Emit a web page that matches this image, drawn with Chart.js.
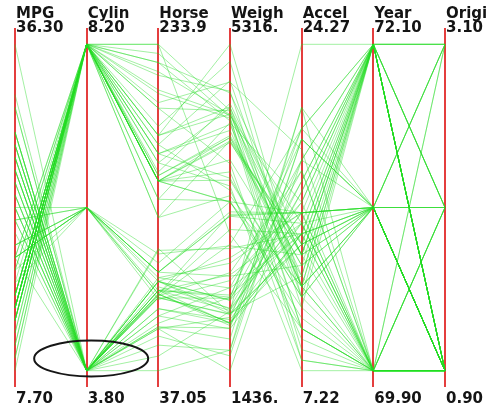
<!DOCTYPE html>
<html>
<head>
<meta charset="utf-8">
<script src="https://cdn.jsdelivr.net/npm/chart.js@4.4.1/dist/chart.umd.min.js"></script>
<style>
  html, body { margin: 0; padding: 0; background: #ffffff; }
  canvas { display: block; }
</style>
</head>
<body>
<canvas id="pc" width="490" height="410"></canvas>
<script>
// Parallel coordinates of the 1970-1972 cars.
const dimensionNames = ['MPG', 'Cylinders', 'Horsepower', 'Weight', 'Acceleration', 'Year', 'Origin'];
const topTickLabels = ['36.30', '8.20', '233.9', '5316.', '24.27', '72.10', '3.10'];
const bottomTickLabels = ['7.70', '3.80', '37.05', '1436.', '7.22', '69.90', '0.90'];
const axisMax = [36.3, 8.2, 233.95, 5316.35, 24.275, 72.1, 3.1];
const axisMin = [7.7, 3.8, 37.05, 1436.65, 7.225, 69.9, 0.9];

const mpg = [
  18, 15, 18, 16, 17, 15, 14, 14, 14, 15, 15, 14, 15, 14, 24, 22, 18, 21, 27, 26, 25, 24, 25, 26, 21, 10, 10, 11, 9,
  27, 28, 25, 19, 16, 17, 19, 18, 14, 14, 14, 14, 12, 13, 13, 18, 22, 19, 18, 23, 28, 30, 30, 31, 35, 27, 26,
  24, 25, 23, 20, 21, 13, 14, 15, 14, 17, 11, 13, 12, 13, 15, 13, 13, 14, 18, 22, 21, 26, 22, 28, 23, 28, 27
];
const cylinders = [
  8, 8, 8, 8, 8, 8, 8, 8, 8, 8, 8, 8, 8, 8, 4, 6, 6, 6, 4, 4, 4, 4, 4, 4, 6, 8, 8, 8, 8,
  4, 4, 4, 6, 6, 6, 6, 6, 8, 8, 8, 8, 8, 8, 8, 6, 4, 6, 6, 4, 4, 4, 4, 4, 4, 4, 4,
  4, 4, 4, 4, 4, 8, 8, 8, 8, 8, 8, 8, 8, 8, 8, 8, 8, 8, 4, 4, 4, 4, 4, 4, 4, 4, 4
];
const horsepower = [
  130, 165, 150, 150, 140, 198, 220, 215, 225, 190, 170, 160, 150, 225, 95, 95, 97, 85, 88, 46, 87, 90, 95, 113, 90, 215, 200, 210, 193,
  88, 90, 95, 100, 105, 100, 88, 100, 165, 175, 153, 150, 180, 170, 175, 110, 72, 100, 88, 86, 90, 70, 76, 65, 69, 60, 70,
  95, 80, 54, 90, 86, 165, 175, 150, 153, 150, 208, 155, 160, 190, 150, 130, 140, 150, 112, 76, 87, 69, 86, 92, 97, 80, 88
];
const weight = [
  3504, 3693, 3436, 3433, 3449, 4341, 4354, 4312, 4425, 3850, 3563, 3609, 3761, 3086, 2372, 2833, 2774, 2587, 2130, 1835, 2672, 2430, 2375, 2234, 2648, 4615, 4376, 4382, 4732,
  2130, 2264, 2228, 2634, 3439, 3329, 3302, 3288, 4209, 4464, 4154, 4096, 4955, 4746, 5140, 2962, 2408, 3282, 3139, 2220, 2123, 2074, 2065, 1773, 1613, 1834, 1955,
  2278, 2126, 2254, 2408, 2226, 4274, 4385, 4135, 4129, 3672, 4633, 4502, 4456, 4422, 3892, 4098, 4294, 4077, 2933, 2511, 2979, 2189, 2395, 2288, 2506, 2164, 2100
];
const acceleration = [
  12, 11.5, 11, 12, 10.5, 10, 9, 8.5, 10, 8.5, 10, 8, 9.5, 10, 15, 15.5, 15.5, 16, 14.5, 20.5, 17.5, 14.5, 17.5, 12.5, 15, 14, 15, 13.5, 18.5,
  14.5, 15.5, 14, 13, 15.5, 15.5, 15.5, 15.5, 12, 11.5, 13.5, 13, 11.5, 12, 12, 13.5, 19, 15, 14.5, 14, 14, 19.5, 14.5, 19, 18, 19, 20.5,
  15.5, 17, 23.5, 19.5, 16.5, 12, 12, 13.5, 13, 11.5, 11, 13.5, 13.5, 12.5, 12.5, 14, 16, 14, 14.5, 18, 19.5, 18, 16, 17, 14.5, 15, 16.5
];
const modelYear = [
  70, 70, 70, 70, 70, 70, 70, 70, 70, 70, 70, 70, 70, 70, 70, 70, 70, 70, 70, 70, 70, 70, 70, 70, 70, 70, 70, 70, 70,
  71, 71, 71, 71, 71, 71, 71, 71, 71, 71, 71, 71, 71, 71, 71, 71, 71, 71, 71, 71, 71, 71, 71, 71, 71, 71, 71,
  72, 72, 72, 72, 72, 72, 72, 72, 72, 72, 72, 72, 72, 72, 72, 72, 72, 72, 72, 72, 72, 72, 72, 72, 72, 72, 72
];
const origin = [
  1, 1, 1, 1, 1, 1, 1, 1, 1, 1, 1, 1, 1, 1, 3, 1, 1, 1, 3, 2, 2, 2, 2, 2, 1, 1, 1, 1, 1,
  3, 1, 3, 1, 1, 1, 1, 1, 1, 1, 1, 1, 1, 1, 1, 1, 1, 1, 1, 1, 2, 2, 2, 3, 3, 2, 1,
  3, 1, 2, 1, 1, 1, 1, 1, 1, 1, 1, 1, 1, 1, 1, 1, 1, 1, 2, 2, 2, 2, 1, 3, 3, 1, 3
];

// Cylinder value the highlighted 4-cylinder group is circled around.
const circledCylinders = 4.15;

const columns = [mpg, cylinders, horsepower, weight, acceleration, modelYear, origin];
const axisLabels = dimensionNames.map(n => n.slice(0, 5));

// Each axis has its own range; map a value onto the shared 0..1 vertical scale.
const toUnit = (v, axis) => (v - axisMin[axis]) / (axisMax[axis] - axisMin[axis]);

const datasets = mpg.map((_, row) => ({
  data: columns.map((col, axis) => toUnit(col[row], axis)),
  borderColor: 'rgba(35, 220, 35, 0.42)',
  borderWidth: 1,
  pointRadius: 0,
  fill: false,
  tension: 0
}));

const axisText = {
  id: 'axisText',
  afterDraw(chart) {
    const { ctx, chartArea, scales } = chart;
    const xs = scales.x, ys = scales.y;
    ctx.save();
    ctx.font = 'bold 15px "DejaVu Sans", sans-serif';
    ctx.fillStyle = '#141414';
    ctx.textAlign = 'left';
    ctx.textBaseline = 'alphabetic';
    axisLabels.forEach((name, i) => {
      const x = xs.getPixelForValue(i) + 1;
      ctx.fillText(name, x, chartArea.top - 10);
      ctx.fillText(topTickLabels[i], x, chartArea.top + 4);
      ctx.fillText(bottomTickLabels[i], x, chartArea.bottom + 16);
    });
    // Ring around the low end of the Cylinders axis.
    const cx = xs.getPixelForValue(1) + 4.5;
    const cy = ys.getPixelForValue(toUnit(circledCylinders, 1));
    ctx.beginPath();
    ctx.ellipse(cx, cy, 57, 18, 0, 0, Math.PI * 2);
    ctx.strokeStyle = '#161616';
    ctx.lineWidth = 2;
    ctx.stroke();
    ctx.restore();
  }
};

new Chart(document.getElementById('pc'), {
  type: 'line',
  data: { labels: axisLabels, datasets },
  options: {
    responsive: false,
    animation: false,
    events: [],
    layout: { padding: { left: 15, right: 45, top: 28, bottom: 23 } },
    plugins: { legend: { display: false }, tooltip: { enabled: false } },
    scales: {
      x: {
        type: 'category',
        offset: false,
        z: 1,
        grid: { color: 'rgb(228, 62, 62)', lineWidth: 2, drawTicks: false, offset: false },
        border: { display: false },
        ticks: { display: false }
      },
      y: { min: 0, max: 1, display: false }
    }
  },
  plugins: [axisText]
});
</script>
</body>
</html>
